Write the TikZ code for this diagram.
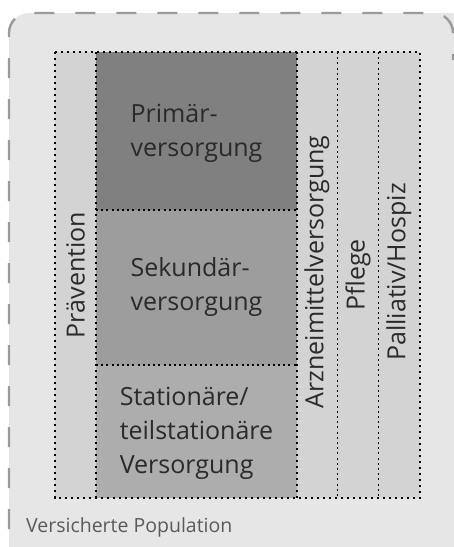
\documentclass[tikz,border=0pt]{standalone}
\usepackage{fontspec}
\setmainfont{Open Sans}
\definecolor{outerfill}{HTML}{E6E6E6}
\definecolor{outerline}{HTML}{9A9A9A}
\definecolor{colfill}{HTML}{D3D3D3}
\definecolor{primfill}{HTML}{808080}
\definecolor{sekfill}{HTML}{9D9D9D}
\definecolor{statfill}{HTML}{ADADAD}
\definecolor{txt}{HTML}{2A2A2A}
\definecolor{poptxt}{HTML}{5A5A5A}
\begin{document}
\begin{tikzpicture}[x=1pt,y=-1pt,
  dotline/.style={draw=black,line width=2.6pt,dash pattern=on 2.4pt off 3.6pt},
  thindot/.style={draw=black,line width=1.8pt,dash pattern=on 2pt off 3.2pt},
  boxtext/.style={text=txt,font=\fontsize{25}{34}\selectfont,align=left,inner sep=0pt},
  coltext/.style={text=txt,font=\fontsize{25}{30}\selectfont,rotate=90,inner sep=0pt}]
\useasboundingbox (0,0) rectangle (454,547);
% outer area
\fill[outerfill,rounded corners=20pt] (9,13) rectangle (470,570);
\draw[outerline,line width=2.4pt,dash pattern=on 20pt off 21pt]
  (27,560) arc[start angle=270,end angle=180,radius=18pt] -- (9,33)
  arc[start angle=180,end angle=90,radius=20pt] -- (433,13)
  arc[start angle=90,end angle=0,radius=20pt] -- (453,60);
% columns
\fill[colfill] (55,52) rectangle (420,498);
\fill[primfill] (96,52) rectangle (297,210);
\fill[sekfill] (96,210) rectangle (297,365);
\fill[statfill] (96,365) rectangle (297,498);
% internal separators
\draw[thindot] (96,210) -- (297,210);
\draw[thindot] (96,365) -- (297,365);
\draw[dotline] (96,52) -- (96,498);
\draw[dotline] (297,52) -- (297,498);
\draw[thindot] (337.5,52) -- (337.5,498);
\draw[thindot] (378.5,52) -- (378.5,498);
\draw[dotline] (55,52) rectangle (420,498);
% texts
\node[boxtext] (prim) at (196.5,133) {Primär-\\versorgung};
\node[boxtext] (sek) at (196.5,287) {Sekundär-\\versorgung};
\node[boxtext] (stat) at (196.5,433) {Stationäre/\\teilstationäre\\Versorgung};
\node[coltext] (praev) at (75.5,275) {Prävention};
\node[coltext] (arz) at (317,272) {Arzneimittelversorgung};
\node[coltext] (pfl) at (358,275) {Pflege};
\node[coltext] (pall) at (399,272) {Palliativ/Hospiz};
\node[anchor=base west,text=poptxt,font=\fontsize{19.5}{22}\selectfont,inner sep=0pt] (pop) at (26,532) {Versicherte Population};
\end{tikzpicture}
\end{document}
